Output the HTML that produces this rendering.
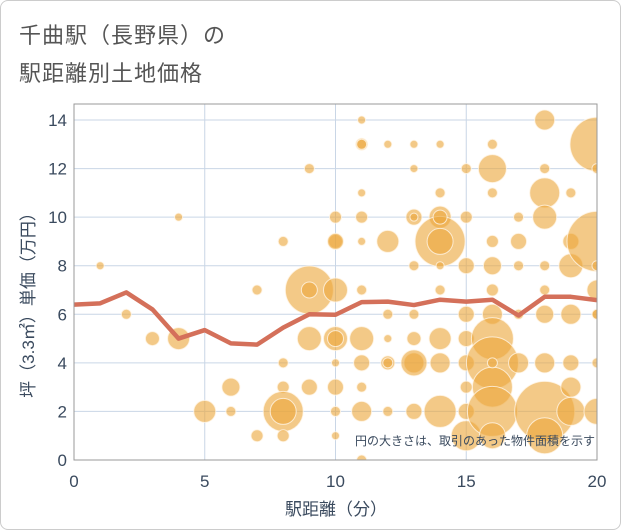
<!DOCTYPE html>
<html><head><meta charset="utf-8"><style>
body{margin:0;background:#fff;font-family:"Liberation Sans","Noto Sans CJK JP",sans-serif}
#wrap{position:relative;width:619px;height:528px;border:1px solid #ccc;border-radius:8px;overflow:hidden}
.t{position:absolute;left:18px;font-size:22px;color:#555;letter-spacing:1px}
</style></head><body>
<div id="wrap">
<div class="t" style="top:17px">千曲駅（長野県）の</div>
<div class="t" style="top:55px">駅距離別土地価格</div>
<svg id="svg" width="619" height="528" style="position:absolute;left:0;top:0"></svg>
</div>
<script>
const xTicks=[0,5,10,15,20];
const yTicks=[0,2,4,6,8,10,12,14];
const lineX=[0,1,2,3,4,5,6,7,8,9,10,11,12,13,14,15,16,17,18,19,20];
const lineY=[6.4,6.45,6.9,6.2,5.0,5.35,4.8,4.75,5.45,6.0,5.98,6.5,6.52,6.38,6.6,6.52,6.6,5.95,6.72,6.72,6.58];
const bubX=[1,2,3,4,4,5,6,6,7,7,8,8,8,8,8,8,9,9,9,9,9,10,10,10,10,10,10,10,10,10,10,11,11,11,11,11,11,11,11,11,11,11,11,12,12,12,12,12,12,12,13,13,13,13,13,13,13,13,13,13,14,14,14,14,14,14,14,14,14,14,14,15,15,15,15,15,15,15,15,15,16,16,16,16,16,16,16,16,16,16,16,16,16,17,17,17,17,17,18,18,18,18,18,18,18,18,18,18,19,19,19,19,19,19,19,20,20,20,20,20,20,20,20,20];
const bubY=[8,6,5,10,5,2,3,2,7,1,9,4,3,2,2,1,12,7,5,3,7,10,9,7,5,4,3,2,5,1,9,14,13,11,10,7,5,4,3,2,0,13,9,13,6,4,9,2,4,5,13,12,10,8,6,5,4,2,4,10,13,11,10,9,8,7,5,4,2,9,10,12,10,8,6,5,4,3,2,1,13,12,11,9,8,7,6,5,4,3,2,1,4,10,9,8,6,4,14,12,11,10,8,7,6,4,2,1,11,9,8,6,4,3,2,13,12,9,8,7,6,4,2,6];
const bubR=[4,5,7,4,11,11,9,5,5,6,5,5,6,20,13,6,5,24,12,8,8,6,7,12,12,4,8,5,8,4,8,4,6,4,6,5,12,8,5,10,5,5,4,4,5,7,11,5,5,4,4,4,8,5,5,7,10,8,13,4,4,5,11,25,4,5,11,10,16,13,7,5,6,8,8,8,8,6,8,15,5,14,5,6,9,6,10,21,26,20,25,13,5,5,8,5,5,10,10,5,15,12,5,5,9,10,30,18,5,8,12,10,8,10,14,27,5,30,5,10,5,5,13,5];
const X0=73,X1=596,Y0=459,Y1=119;
const xs=v=>X0+(X1-X0)*v/20, ys=v=>Y0-(Y0-Y1)*v/14;
const svg=document.getElementById('svg');const NS='http://www.w3.org/2000/svg';
function mk(tag,at,parent){const e=document.createElementNS(NS,tag);for(const k in at)e.setAttribute(k,at[k]);(parent||svg).appendChild(e);return e;}
const clip=mk('clipPath',{id:'c'});mk('rect',{x:X0,y:103,width:X1-X0,height:Y0-103},clip);
for(const t of xTicks){const l=mk('line',{x1:xs(t),x2:xs(t),y1:103,y2:Y0,stroke:'#c9d6e6','stroke-width':1});

const tx=mk('text',{x:xs(t),y:486,'text-anchor':'middle','font-size':17,fill:'#3a4a5e'});tx.textContent=t;
}
for(const t of yTicks){const l=mk('line',{x1:X0,x2:X1,y1:ys(t),y2:ys(t),stroke:'#c9d6e6','stroke-width':1});

const tx=mk('text',{x:66,y:ys(t)+6,'text-anchor':'end','font-size':17,fill:'#3a4a5e'});tx.textContent=t;
}
const g=mk('g',{'clip-path':'url(#c)'});
for(let i=0;i<bubX.length;i++){const c=mk('circle',{cx:xs(bubX[i]),cy:ys(bubY[i]),r:bubR[i],fill:'rgba(236,168,62,0.62)',stroke:'rgba(255,245,230,0.8)','stroke-width':1},g);
}
const p=mk('polyline',{points:lineX.map((x,i)=>xs(x)+','+ys(lineY[i])).join(' '),fill:'none',stroke:'#d4705a','stroke-width':4.5,'stroke-linejoin':'round'},g);

const bx=mk('rect',{x:X0,y:103,width:X1-X0,height:Y0-103,fill:'none',stroke:'#999','stroke-width':1});

const note=mk('text',{x:594,y:444,'text-anchor':'end','font-size':12,fill:'#3a4a5e'});note.textContent='円の大きさは、取引のあった物件面積を示す';

const xt=mk('text',{x:335,y:514,'text-anchor':'middle','font-size':17,fill:'#3a4a5e'});xt.textContent='駅距離（分）';

const yt=mk('text',{x:0,y:0,'text-anchor':'middle','font-size':17,fill:'#3a4a5e',transform:'translate(33,300) rotate(-90)'});yt.textContent='坪（3.3㎡）単価（万円）';

</script>
</body></html>
